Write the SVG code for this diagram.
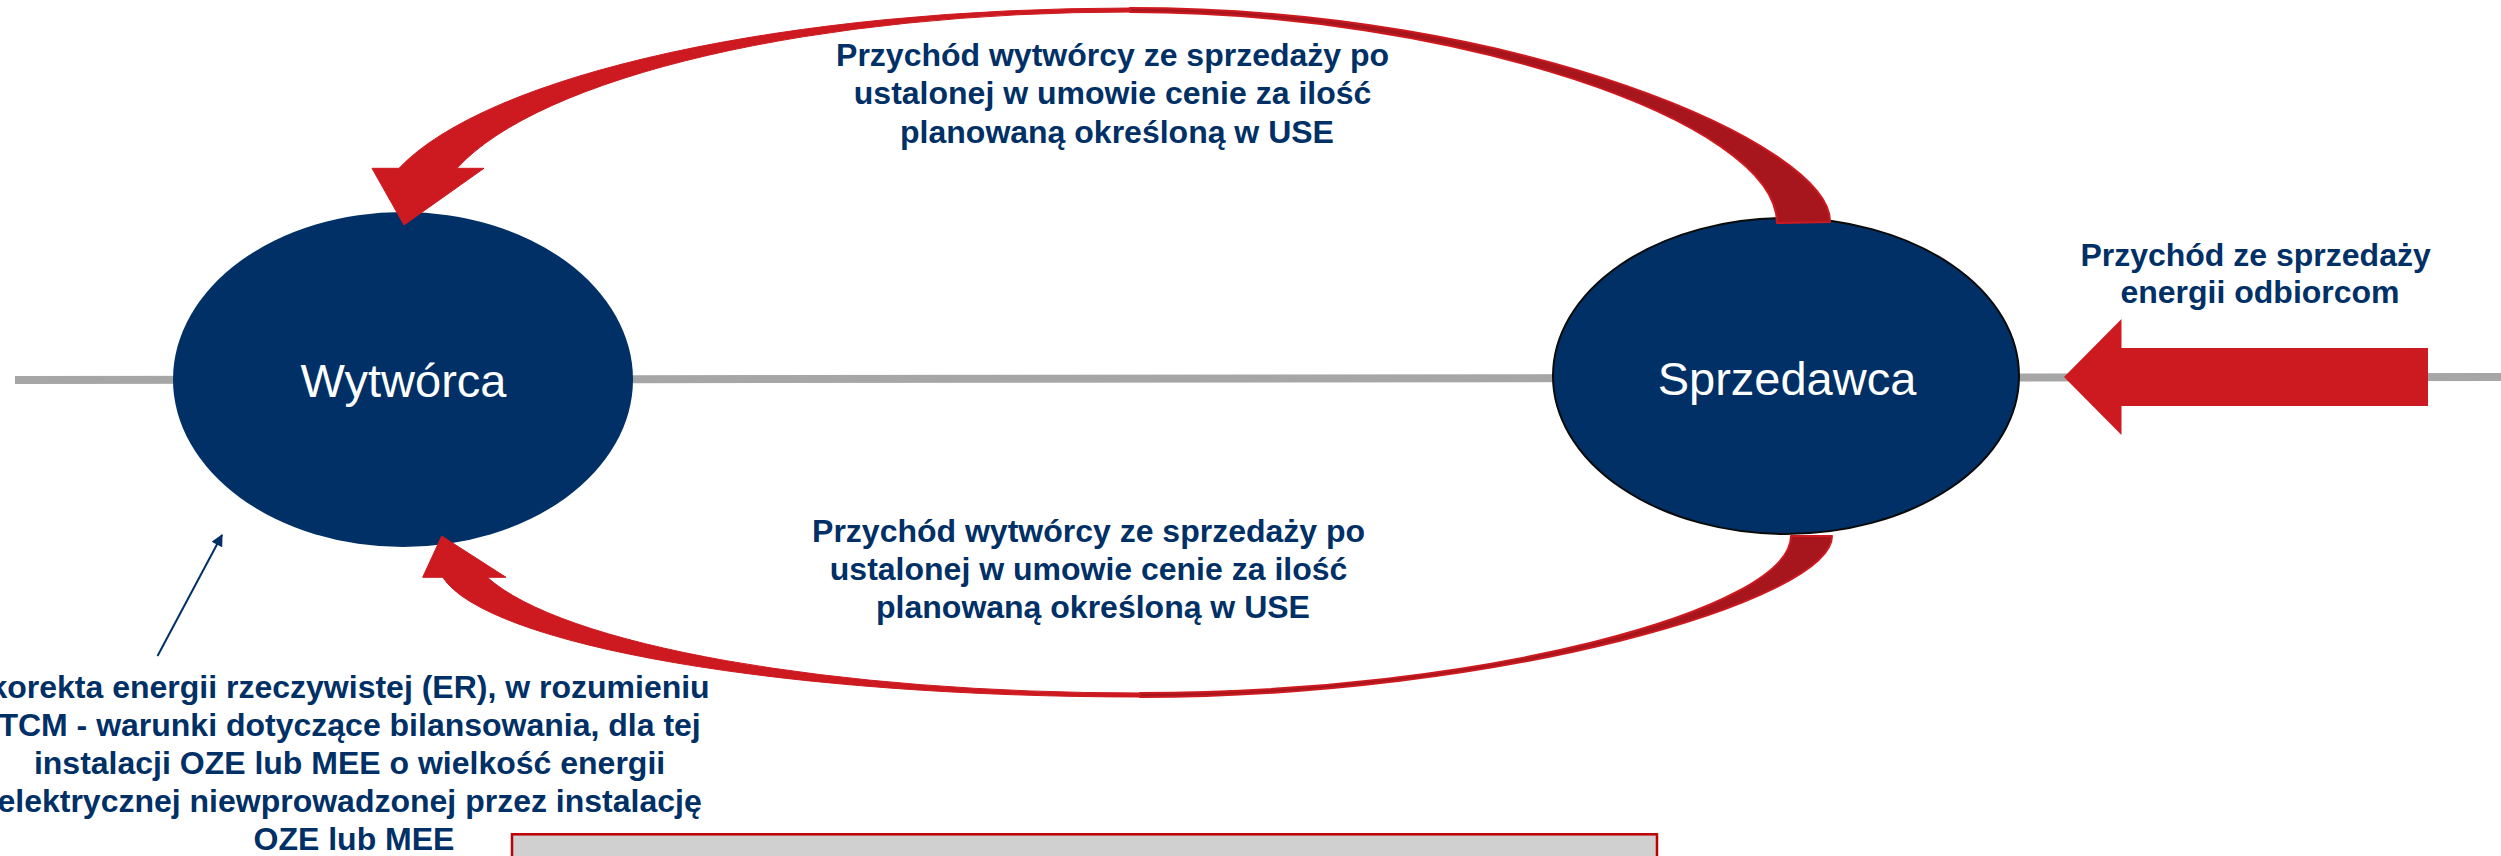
<svg xmlns="http://www.w3.org/2000/svg" width="2501" height="856" viewBox="0 0 2501 856">
  <style>
    .node { fill: #003066; }
    .node-label { font-family: "Liberation Sans", Arial, sans-serif; font-size: 47px; fill: #ffffff; text-anchor: middle; }
    .label { font-family: "Liberation Sans", Arial, sans-serif; font-size: 32px; font-weight: bold; fill: #003066; text-anchor: middle; }
    .flow-front { fill: #CD1A20; stroke: #CD1A20; stroke-width: 1; stroke-linejoin: round; }
    .flow-back { fill: #A6161C; stroke: #CD1A20; stroke-width: 2; stroke-linejoin: round; }
    .axis { stroke: #A6A6A6; stroke-width: 8; fill: none; }
  </style>
  <defs>
    <marker id="navy-head" viewBox="0 0 10 10" refX="9" refY="5" markerWidth="7" markerHeight="6" orient="auto" markerUnits="strokeWidth">
      <path d="M0,0 L10,5 L0,10 Z" fill="#003066"/>
    </marker>
  </defs>

  <rect x="0" y="0" width="2501" height="856" fill="#ffffff"/>

  <!-- horizontal axis behind the parties -->
  <line class="axis" x1="15" y1="380" x2="2501" y2="377"/>

  <!-- parties -->
  <g id="wytworca">
    <ellipse class="node" cx="403" cy="379.5" rx="230" ry="167.5"/>
    <text class="node-label" x="403.5" y="397">Wytwórca</text>
  </g>

  <g id="sprzedawca">
    <ellipse class="node" cx="1786" cy="376" rx="233" ry="158" stroke="#0a0a0a" stroke-width="2"/>
    <text class="node-label" x="1787" y="395">Sprzedawca</text>
  </g>

  <!-- money flows -->
  <g id="connectors">
    <!-- upper curved arrow: Sprzedawca -> Wytwórca -->
    <path class="flow-back" d="M1130,8 C1520,8 1832,145 1830,222 L1777,223 C1777,120 1450,12 1130,12 Z"/>
    <path class="flow-front" d="M372,168.3 L399,168.3 A758,217 0 0 1 1130,8 L1130,12 A698,213 0 0 0 457,168.3 L484,168.3 L404,225 Z"/>

    <!-- lower curved arrow: Sprzedawca -> Wytwórca -->
    <path class="flow-back" d="M1140,697 C1500,697 1832,600 1832,536 L1791,536 C1791,610 1480,693 1140,693 Z"/>
    <path class="flow-front" d="M422.7,577.3 L442.7,577.3 A703,137 0 0 0 1140,697 L1140,693 A673,153 0 0 1 487.3,577.3 L506,577.3 L441.7,536 Z"/>

    <!-- incoming revenue from consumers -->
    <path d="M2064,377 L2121.5,319 L2121.5,348 L2428,348 L2428,406 L2121.5,406 L2121.5,435 Z" fill="#CD1A20"/>

    <!-- correction pointer -->
    <line x1="157.5" y1="656" x2="222" y2="535" stroke="#003066" stroke-width="2" marker-end="url(#navy-head)"/>
  </g>

  <!-- flow labels -->
  <g id="labels">
    <text class="label" x="1117" y="65.5">
      <tspan x="1117">Przychód wytwórcy ze sprzedaży po</tspan>
      <tspan x="1117" dy="38.7">ustalonej w umowie cenie za ilość</tspan>
      <tspan x="1117" dy="38.7">planowaną określoną w USE</tspan>
    </text>
    <text class="label" x="1093" y="542">
      <tspan x="1093">Przychód wytwórcy ze sprzedaży po</tspan>
      <tspan x="1093" dy="38.2">ustalonej w umowie cenie za ilość</tspan>
      <tspan x="1093" dy="38.2">planowaną określoną w USE</tspan>
    </text>
    <text class="label" x="2260" y="265.5">
      <tspan x="2260">Przychód ze sprzedaży</tspan>
      <tspan x="2260" dy="37.8">energii odbiorcom</tspan>
    </text>
    <text class="label" x="354" y="698.3">
      <tspan x="354">korekta energii rzeczywistej (ER), w rozumieniu</tspan>
      <tspan x="354" dy="38">TCM - warunki dotyczące bilansowania, dla tej</tspan>
      <tspan x="354" dy="38">instalacji OZE lub MEE o wielkość energii</tspan>
      <tspan x="354" dy="38">elektrycznej niewprowadzonej przez instalację</tspan>
      <tspan x="354" dy="38">OZE lub MEE</tspan>
    </text>
  </g>

  <!-- grey panel at the bottom edge -->
  <g id="panel">
    <rect x="512" y="834.3" width="1145" height="40" fill="#D0D0D0" stroke="#C00000" stroke-width="2.5"/>
  </g>
</svg>
